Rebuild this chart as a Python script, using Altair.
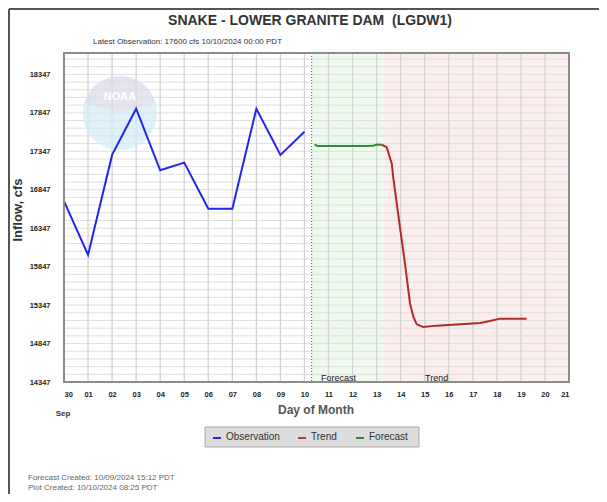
import altair as alt
import pandas as pd

# ---------------- data ----------------
obs_day = [0, 1, 2, 3, 4, 5, 6, 7, 8, 9, 10]
obs_flow = [16700, 16000, 17300, 17900, 17100, 17200, 16600, 16600, 17900, 17300, 17600]

fc_day = [10.42, 10.55, 11.0, 11.5, 12.0, 12.5, 12.85, 13.0, 13.21]
fc_flow = [17435, 17415, 17415, 17415, 17415, 17415, 17418, 17435, 17432]

tr_day = [13.21, 13.42, 13.63, 13.69, 13.97, 14.18, 14.39, 14.53, 14.67, 14.94, 15.5, 17.3, 17.71, 18.13, 19.24]
tr_flow = [17432, 17401, 17185, 17011, 16361, 15886, 15366, 15192, 15097, 15062, 15080, 15114, 15140, 15171, 15171]

x_tick_labels = ["30", "01", "02", "03", "04", "05", "06", "07", "08", "09", "10",
                 "11", "12", "13", "14", "15", "16", "17", "18", "19", "20", "21"]
y_tick_values = [14347, 14847, 15347, 15847, 16347, 16847, 17347, 17847, 18347]

latest_obs_day = 10.3
forecast_end_day = 13.32

title_text = "SNAKE - LOWER GRANITE DAM \u00a0(LGDW1)"
subtitle_text = "Latest Observation: 17600 cfs 10/10/2024 00:00 PDT"
footer1 = "Forecast Created: 10/09/2024 15:12 PDT"
footer2 = "Plot Created: 10/10/2024 08:25 PDT"

# ---------------- layout ----------------
W, H = 505, 329
XDOM = [0, 21]
YDOM = [14347, 18625]
FONT = "Liberation Sans"

label_expr = "[" + ",".join("'%s'" % s for s in x_tick_labels) + "][datum.value]"

x_axis = alt.Axis(values=list(range(len(x_tick_labels))), labelExpr=label_expr, title=None,
                  grid=False, ticks=False, domain=False, labelPadding=8, labelFontSize=7.5,
                  labelFontWeight="bold", labelColor="#222", labelFont=FONT)
y_axis = alt.Axis(values=y_tick_values, format="d", title=None, grid=False, ticks=False,
                  domain=False, labelPadding=14, labelFontSize=7.5, labelFontWeight="bold",
                  labelColor="#222", labelFont=FONT)
xscale = alt.Scale(domain=XDOM, nice=False, zero=False)
yscale = alt.Scale(domain=YDOM, nice=False, zero=False)


def X(f="day"):
    return alt.X(f"{f}:Q", scale=xscale, axis=x_axis)


def Y(f="flow"):
    return alt.Y(f"{f}:Q", scale=yscale, axis=y_axis)


one = pd.DataFrame({"a": [0]})

shade = alt.Chart(pd.DataFrame({
    "day": [latest_obs_day, forecast_end_day],
    "day2": [forecast_end_day, XDOM[1]],
    "zone": ["fc", "tr"],
})).mark_rect().encode(
    x=X("day"), x2="day2:Q", y=alt.value(0), y2=alt.value(H),
    color=alt.Color("zone:N", scale=alt.Scale(domain=["fc", "tr"], range=["#effaef", "#fdeeee"]), legend=None),
)

hgrid = alt.Chart(pd.DataFrame({"flow": list(range(14347, 18625, 100))})).mark_rule(
    color="#dedede", strokeWidth=1).encode(y=Y(), x=alt.value(0), x2=alt.value(W))

vgrid = alt.Chart(pd.DataFrame({"day": list(range(0, 22))})).mark_rule(
    color="#d2d2d2", strokeWidth=1.3).encode(x=X(), y=alt.value(0), y2=alt.value(H))

# NOAA watermark
logo_blue = alt.Chart(one).mark_arc(theta=1.3, theta2=4.98, outerRadius=37, color="#d3ecf6", opacity=0.75).encode(
    x=alt.value(56), y=alt.value(60))
logo_top = alt.Chart(one).mark_arc(theta=4.98, theta2=7.58, outerRadius=37, color="#d9dbe9", opacity=0.75).encode(
    x=alt.value(56), y=alt.value(60))
logo_text = alt.Chart(one).mark_text(text="NOAA", font=FONT, fontSize=11, fontWeight="bold", color="white").encode(
    x=alt.value(56), y=alt.value(44))

dotted = alt.Chart(pd.DataFrame({"day": [latest_obs_day]})).mark_rule(
    color="#555", strokeDash=[1, 2], strokeWidth=1).encode(x=X(), y=alt.value(0), y2=alt.value(H))

obs = alt.Chart(pd.DataFrame({"day": obs_day, "flow": obs_flow})).mark_line(
    color="#2424f0", strokeWidth=2).encode(x=X(), y=Y())
fc = alt.Chart(pd.DataFrame({"day": fc_day, "flow": fc_flow})).mark_line(
    color="#2e8b36", strokeWidth=2).encode(x=X(), y=Y())
tr = alt.Chart(pd.DataFrame({"day": tr_day, "flow": tr_flow})).mark_line(
    color="#b02a2a", strokeWidth=2).encode(x=X(), y=Y())

frame = alt.Chart(one).mark_rect(filled=False, stroke="#8c8c8c", strokeWidth=2).encode(
    x=alt.value(0), x2=alt.value(W), y=alt.value(0), y2=alt.value(H))


def txt(s, x, y, size, weight="normal", color="#222", align="left", angle=0, baseline="middle"):
    m = alt.Chart(one).mark_text(text=s, font=FONT, fontSize=size, fontWeight=weight, color=color,
                                 align=align, baseline=baseline, angle=angle)
    return m.encode(x=alt.value(x), y=alt.value(y))


texts = [
    txt(title_text, 246, -32, 14, "bold", "#333", "center"),
    txt(subtitle_text, 29, -11, 8, "normal", "#333"),
    txt("Inflow, cfs", -46, 157, 13, "bold", "#333", "center", 270),
    txt("Day of Month", 252, 357, 12, "bold", "#555", "center"),
    txt("Sep", -1, 361, 8, "bold", "#333", "center"),
    txt("Forecast", 257, 328, 9, "normal", "#222", baseline="alphabetic"),
    txt("Trend", 361, 328, 9, "normal", "#222", baseline="alphabetic"),
    txt(footer1, -36, 425, 8, "normal", "#666"),
    txt(footer2, -36, 435, 8, "normal", "#666"),
]

# legend box
legend_box = alt.Chart(one).mark_rect(fill="#dddddd", stroke="#a8a8a8", strokeWidth=1).encode(
    x=alt.value(141), x2=alt.value(355), y=alt.value(374), y2=alt.value(394))
leg_items = []
for x0, col, name in [(149, "#2424f0", "Observation"), (234, "#c83232", "Trend"), (292, "#2e8b36", "Forecast")]:
    leg_items.append(alt.Chart(one).mark_rule(color=col, strokeWidth=2).encode(
        x=alt.value(x0), x2=alt.value(x0 + 8), y=alt.value(385)))
    leg_items.append(txt(name, x0 + 13, 384, 10, "normal", "#333"))

# outer page frame
outer_top = alt.Chart(one).mark_rule(color="#555", strokeWidth=2).encode(
    x=alt.value(-55), x2=alt.value(535), y=alt.value(-44))
outer_left = alt.Chart(one).mark_rule(color="#555", strokeWidth=2).encode(
    x=alt.value(-55), y=alt.value(-44), y2=alt.value(441))

chart = alt.layer(
    shade, hgrid, vgrid, logo_blue, logo_top, logo_text, dotted, obs, fc, tr, frame,
    legend_box, *leg_items, *texts, outer_top, outer_left,
).properties(
    width=W, height=H,
    autosize=alt.AutoSizeParams(type="none"),
    padding={"left": 56, "top": 45, "right": 30, "bottom": 112},
    background="white",
).configure_view(stroke=None)

chart.save("out.html", embed_options={"renderer": "svg", "actions": False})
